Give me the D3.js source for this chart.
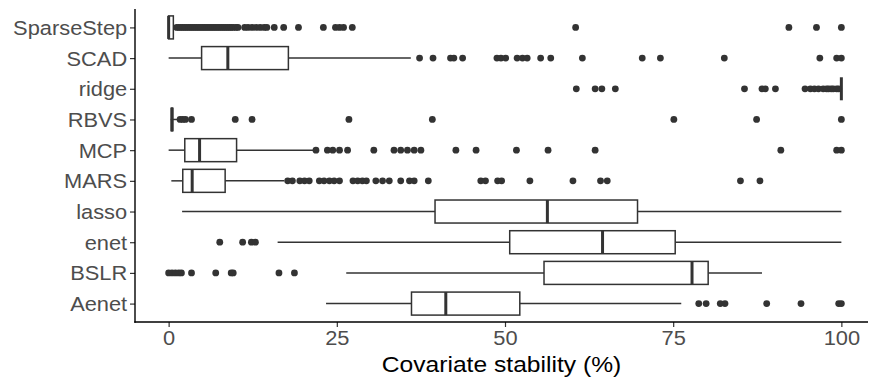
<!DOCTYPE html>
<html>
<head>
<meta charset="utf-8">
<script src="https://cdn.jsdelivr.net/npm/d3@7/dist/d3.min.js"></script>
<style>
  body { margin: 0; background: #fff; }
  svg { display: block; font-family: "Liberation Sans", Arial, sans-serif; }
</style>
</head>
<body>
<div id="chart"></div>
<script>
// boxplot summaries (stability in %)
var methods = ["SparseStep", "SCAD", "ridge", "RBVS", "MCP", "MARS", "lasso", "enet", "BSLR", "Aenet"];
var whiskerLo = [0,   0,    100, 0.3, 0,    0.4,  2.0,  16.2, 26.4, 23.4];
var q1        = [0,   4.9,  100, 0.4, 2.4,  2.1,  39.6, 50.7, 55.8, 36.1];
var median    = [0,   8.8,  100, 0.5, 4.6,  3.5,  56.3, 64.5, 77.8, 41.2];
var q3        = [0.7, 17.8, 100, 0.6, 10.1, 8.4,  69.7, 75.3, 80.2, 52.2];
var whiskerHi = [0.7, 36.0, 100, 1.4, 21.7, 17.2, 100,  100,  88.2, 76.2];

// outliers per method
var outSparseStep = [1.2, 1.5, 1.8, 2.1, 2.4, 2.7, 3.0, 3.3, 3.6, 3.9, 4.2, 4.5, 4.8, 5.1, 5.4, 5.7,
  6.0, 6.3, 6.6, 6.9, 7.2, 7.5, 7.8, 8.1, 8.4, 8.7, 9.0, 9.3, 9.6, 10.0, 10.3, 11.3, 11.8, 12.4,
  13.0, 13.6, 14.2, 14.6, 15.7, 17.1, 19.3, 23.0, 24.8, 25.4, 26.0, 27.3, 60.5, 92.2, 96.3, 100];
var outSCAD = [37.3, 39.3, 41.9, 42.4, 43.7, 48.8, 49.4, 50.1, 51.8, 52.6, 53.3, 55.3, 56.8,
  61.5, 70.4, 73.1, 82.6, 96.8, 99.3, 100];
var outRidge = [60.6, 63.4, 64.4, 66.4, 85.6, 88.2, 88.7, 90.2, 94.6, 95.4, 96.0, 96.6, 97.3,
  97.8, 98.1, 98.5, 98.8, 99.3, 99.6];
var outRBVS = [1.7, 2.1, 2.5, 3.4, 9.9, 12.4, 26.8, 39.2, 75.1, 87.4, 100];
var outMCP = [21.9, 23.6, 24.4, 25.4, 26.6, 30.5, 33.5, 34.5, 35.5, 36.5, 37.5, 42.7, 45.7,
  51.7, 56.4, 63.4, 91.0, 99.3, 100];
var outMARS = [17.7, 18.4, 19.5, 20.2, 20.9, 22.4, 23.1, 23.9, 24.6, 25.4, 27.4, 28.1, 28.8,
  29.4, 30.8, 31.8, 32.8, 34.5, 35.8, 36.5, 38.6, 46.4, 47.1, 48.9, 49.5, 53.7, 60.1, 64.2,
  65.2, 85.0, 87.9];
var outLasso = [];
var outEnet = [7.6, 11.0, 12.3, 12.9];
var outBSLR = [0, 0.5, 1.0, 1.5, 1.9, 3.4, 7.0, 9.3, 9.6, 16.4, 18.7];
var outAenet = [78.8, 79.9, 82.0, 82.7, 88.9, 94.0, 99.6, 100];
var outliers = [outSparseStep, outSCAD, outRidge, outRBVS, outMCP, outMARS, outLasso, outEnet, outBSLR, outAenet];

var xTicks = [0, 25, 50, 75, 100];

var W = 870, H = 382;
var panelLeft = 135, panelRight = 868, panelTop = 9, panelBottom = 322;
var stretch = 1.12; // picture text is a bit wide

var svg = d3.select("#chart").append("svg")
  .attr("width", W).attr("height", H);

var x = d3.scaleLinear().domain([-5, 105]).range([panelLeft, 875]);
var y = d3.scalePoint().domain(methods).range([panelTop, panelBottom]).padding(0.6);
var boxH = y.step() * 0.75;
var ink = "#333333";

var data = methods.map(function(m, i) {
  return { name: m, lo: whiskerLo[i], q1: q1[i], med: median[i], q3: q3[i], hi: whiskerHi[i], out: outliers[i] };
});

var rows = svg.append("g").selectAll("g")
  .data(data).enter().append("g")
  .attr("transform", function(d) { return "translate(0," + y(d.name) + ")"; });

// whiskers
rows.append("line")
  .attr("x1", function(d) { return x(d.lo); })
  .attr("x2", function(d) { return x(d.q1); })
  .attr("stroke", ink).attr("stroke-width", 1.5);
rows.append("line")
  .attr("x1", function(d) { return x(d.q3); })
  .attr("x2", function(d) { return x(d.hi); })
  .attr("stroke", ink).attr("stroke-width", 1.5);

// boxes
rows.append("rect")
  .attr("x", function(d) { return x(d.q1); })
  .attr("y", -boxH / 2)
  .attr("width", function(d) { return x(d.q3) - x(d.q1); })
  .attr("height", boxH)
  .attr("fill", "#fff").attr("stroke", ink).attr("stroke-width", 1.5);

// medians
rows.append("line")
  .attr("x1", function(d) { return x(d.med); })
  .attr("x2", function(d) { return x(d.med); })
  .attr("y1", -boxH / 2).attr("y2", boxH / 2)
  .attr("stroke", ink).attr("stroke-width", 3);

// outlier points
rows.selectAll("circle")
  .data(function(d) { return d.out; })
  .enter().append("circle")
  .attr("cx", function(v) { return x(v); })
  .attr("cy", 0)
  .attr("r", 3.4)
  .attr("fill", ink);

// axes
var yAxis = svg.append("g")
  .attr("transform", "translate(" + panelLeft + ",0)")
  .call(d3.axisLeft(y).tickSize(5).tickPadding(3));
yAxis.select(".domain").remove();
yAxis.append("line").attr("y1", panelTop).attr("y2", panelBottom + 0.7)
  .attr("stroke", "#000").attr("stroke-width", 1.4);
yAxis.selectAll(".tick line").attr("stroke", ink).attr("stroke-width", 1.2);
yAxis.selectAll(".tick text")
  .attr("fill", "#4d4d4d").style("font-size", "19.5px")
  .attr("x", -7).attr("dy", "0.36em")
  .attr("transform", "scale(" + stretch + ",1)");

var xAxis = svg.append("g")
  .attr("transform", "translate(0," + panelBottom + ")")
  .call(d3.axisBottom(x).tickValues(xTicks).tickSize(5).tickPadding(4));
xAxis.select(".domain").remove();
xAxis.append("line").attr("x1", panelLeft - 0.7).attr("x2", panelRight)
  .attr("stroke", "#000").attr("stroke-width", 1.4);
xAxis.selectAll(".tick line").attr("stroke", ink).attr("stroke-width", 1.2);
xAxis.selectAll(".tick text")
  .attr("fill", "#4d4d4d").style("font-size", "19.5px")
  .attr("transform", "scale(" + stretch + ",1)");

// title
svg.append("text")
  .attr("transform", "translate(" + ((panelLeft + panelRight) / 2) + ",372) scale(" + stretch + ",1)")
  .attr("text-anchor", "middle")
  .attr("fill", "#000")
  .style("font-size", "22px")
  .text("Covariate stability (%)");
</script>
</body>
</html>
